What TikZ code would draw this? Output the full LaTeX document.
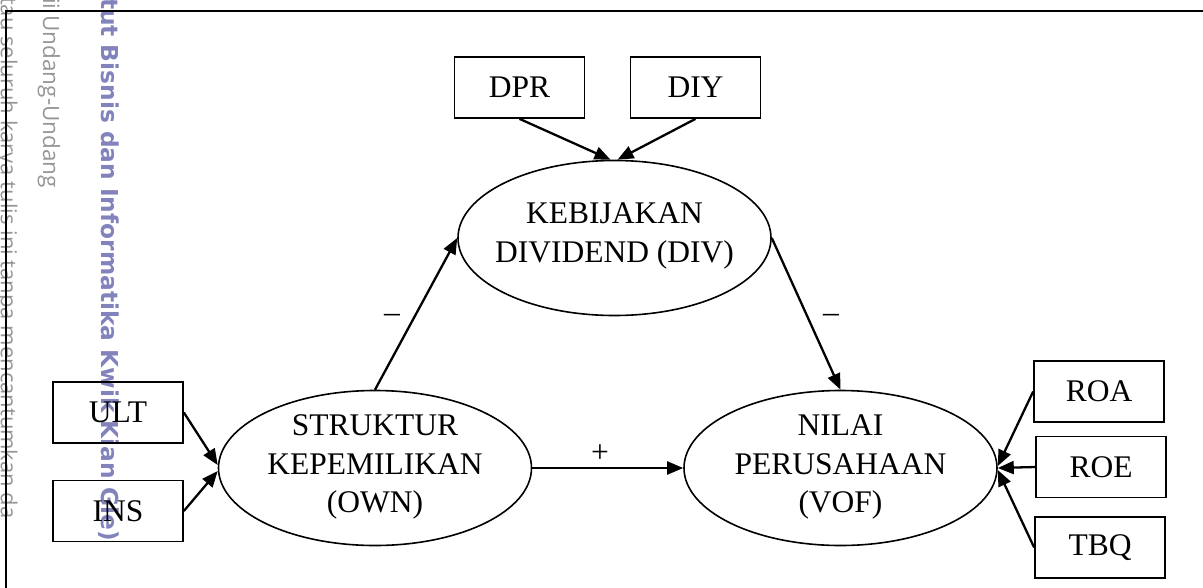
\documentclass[tikz,border=0pt]{standalone}
\usepackage{fontspec}
\setmainfont{Liberation Serif}
\newfontfamily\wmlight{Open Sans}
\newfontfamily\wmbold{DejaVu Sans}
\usetikzlibrary{shapes.geometric,arrows.meta}
\definecolor{wmgray}{RGB}{150,150,150}
\definecolor{wmblue}{RGB}{130,130,188}
\begin{document}
\begin{tikzpicture}[x=1pt,y=-1pt,
  box/.style={draw, line width=1.7pt, minimum width=130pt, minimum height=61pt, inner sep=0pt, font=\fontsize{31.5}{38}\selectfont},
  lat/.style={draw, ellipse, line width=1.6pt, minimum width=313pt, minimum height=155pt, inner sep=0pt},
  lattext/.style={align=center, font=\fontsize{31.5}{38.5}\selectfont, inner sep=0pt},
  conn/.style={line width=2.3pt, -{Triangle[length=16pt,width=13pt]}},
  sign/.style={font=\fontsize{31.5}{38}\selectfont, inner sep=0pt},
  wm/.style={rotate=-90, inner sep=0pt},
]
\useasboundingbox (0,0) rectangle (1203,587);

% watermark
\node[wm, anchor=base west, text=wmgray, font=\wmlight\fontsize{22}{22}\selectfont] (wm1) at (1,-3) {tau seluruh karya tulis ini tanpa mencantumkan da};
\node[wm, anchor=base west, text=wmgray, font=\wmlight\fontsize{22.5}{22}\selectfont] (wm2) at (43,-2) {ii Undang-Undang};
\node[wm, anchor=base east, text=wmblue, font=\wmbold\bfseries\fontsize{23.3}{23}\selectfont] (wm3) at (101,541) {tut Bisnis dan Informatika Kwik Kian Gie)};

% frame
\coordinate (fA) at (6,600);
\coordinate (fB) at (6,11);
\coordinate (fC) at (1215,11);
\draw[line width=2.4pt] (fA) -- (fB) -- (fC);

% boxes
\node[box] (DPR) at (519.5,87.5) {DPR};
\node[box] (DIY) at (695.5,87.5) {DIY};
\node[box] (ULT) at (118,412.5) {ULT};
\node[box] (INS) at (118,511) {INS};
\node[box] (ROA) at (1099,391.5) {ROA};
\node[box] (ROE) at (1101,467) {ROE};
\node[box] (TBQ) at (1100,547.5) {TBQ};

% latent variables
\node[lat] (DIV) at (614.5,238) {};
\node[lattext] (DIVt) at (614.5,236) {KEBIJAKAN\\DIVIDEND (DIV)};
\node[lat] (OWN) at (375,468) {};
\node[lattext] (OWNt) at (375,467) {STRUKTUR\\KEPEMILIKAN\\(OWN)};
\node[lat] (VOF) at (840.5,468) {};
\node[lattext] (VOFt) at (840.5,467) {NILAI\\PERUSAHAAN\\(VOF)};

% connectors
\draw[conn] (DPR.south) -- ([xshift=-4pt]DIV.north);
\draw[conn] (DIY.south) -- ([xshift=3pt]DIV.north);
\draw[conn] (ULT.east) -- ([yshift=3pt]OWN.west);
\draw[conn] (INS.east) -- ([yshift=-3pt]OWN.west);
\draw[conn] (OWN.north) -- (DIV.west);
\draw[conn] (DIV.east) -- (VOF.north);
\draw[conn] (OWN.east) -- (VOF.west);
\draw[conn] (ROA.west) -- ([yshift=2pt]VOF.east);
\draw[conn] (ROE.west) -- (VOF.east);
\draw[conn] (TBQ.west) -- ([yshift=-2pt]VOF.east);

% signs
\node[sign] (s1) at (392,318) {–};
\node[sign] (s2) at (831,318) {–};
\node[sign] (s3) at (600,454) {+};
\end{tikzpicture}
\end{document}
